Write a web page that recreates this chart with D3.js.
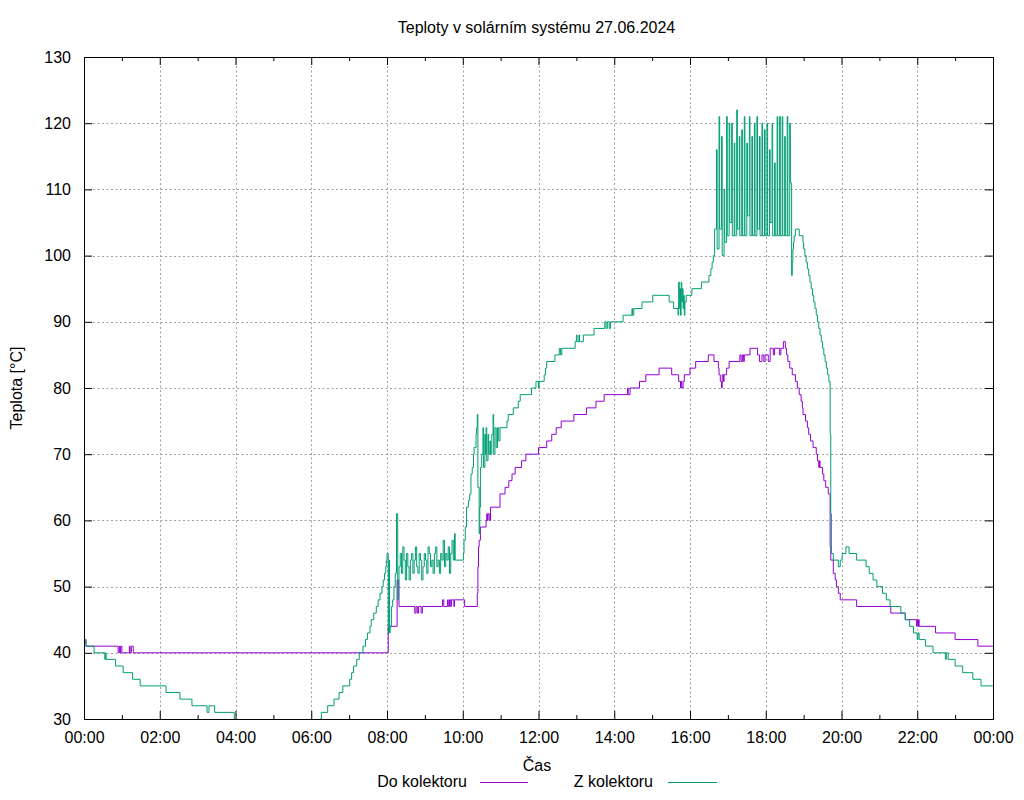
<!DOCTYPE html>
<html><head><meta charset="utf-8">
<script src="https://cdn.jsdelivr.net/npm/d3@7"></script>
<style>body{margin:0;background:#fff} svg text{font-family:"Liberation Sans",Arial,sans-serif;font-size:16px;fill:#000}</style>
</head><body><svg id="c" width="1024" height="800"></svg>
<script>
const titleText = "Teploty v solárním systému 27.06.2024";
const xLabelText = "Čas";
const yLabelText = "Teplota [°C]";
const seriesNames = ["Do kolektoru", "Z kolektoru"];
const seriesColors = ["#9400d3", "#009e73"];
const xMajorTicks = ["00:00","02:00","04:00","06:00","08:00","10:00","12:00","14:00","16:00","18:00","20:00","22:00","24:00"];
const xMajorLabels = ["00:00","02:00","04:00","06:00","08:00","10:00","12:00","14:00","16:00","18:00","20:00","22:00","00:00"];
const xMinorTicks = ["01:00","03:00","05:00","07:00","09:00","11:00","13:00","15:00","17:00","19:00","21:00","23:00"];
const yTicks = [30,40,50,60,70,80,90,100,110,120,130];

// Do kolektoru (purple)
const doTime = ["00:00","00:03","00:54","00:56","00:57","00:58","01:00","01:12","01:13","01:15","01:18",
"08:02","08:16","08:19","08:44","08:46","08:48","08:50","08:54","08:56",
"09:28","09:30","09:36","09:37","09:39","09:41","09:42","09:46","09:47","10:03",
"10:23","10:24","10:25","10:26","10:28","10:37","10:38","10:39","10:40","10:42","10:44","10:59",
"11:07","11:13","11:18","11:23","11:33","11:40","12:00","12:13","12:21","12:28","12:36","12:56",
"13:16","13:31","13:44","14:21","14:22","14:25","14:40","14:50","15:11","15:31","15:42","15:45",
"15:46","15:47","15:49","15:51","16:00","16:09","16:29","16:38","16:45","16:46","16:48","16:50",
"16:51","16:53","16:54","16:58","17:02","17:19","17:21","17:23","17:25","17:26","17:35","17:47",
"17:50","17:54","17:57","17:59","18:04","18:07","18:12","18:14","18:22","18:24","18:28","18:31",
"18:33","18:35","18:38","18:42","18:47","18:50","18:53","18:56","18:58","18:59","19:03","19:06",
"19:08","19:11","19:15","19:20","19:22","19:24","19:25","19:26","19:30","19:32","19:35","19:39",
"19:42","19:43","19:47","19:50","19:52","19:55","19:58","20:24","21:18","21:41","21:59","22:00",
"22:01","22:02","22:03","22:29","23:00","23:36","24:00"];
const doTemp = [42,41,40,41,40,41,40,41,40,41,40,
44,51,47,46,47,46,47,46,47,
48,47,48,47,48,47,48,47,48,47,
49,53,56,57,59,60,61,60,61,60,62,64,
65,66,67,68,69,70,71,72,73,74,75,76,
77,78,79,80,79,80,81,82,83,82,81,80,
81,80,81,82,83,84,85,84,83,82,81,80,
82,81,82,83,84,85,84,85,84,85,86,85,
84,85,84,85,84,86,85,86,85,86,87,86,
85,84,83,82,81,80,79,78,77,76,75,74,
73,72,71,70,69,68,69,68,67,66,65,64,
56,54,52,51,50,49,48,47,46,45,44,45,
44,45,44,43,42,41,41];

// Z kolektoru (green)
const zTime = ["00:00","00:03","00:16","00:33","00:34","00:35","00:50","01:02","01:17","01:29",
"02:10","02:32","02:51","03:15","03:18","03:27","03:58","04:30","05:00","05:30",
"06:00","06:14","06:16","06:26","06:36","06:44","06:50","07:01","07:04","07:07",
"07:12","07:16","07:22","07:26","07:29","07:33","07:35","07:39","07:43","07:46",
"07:49","07:52","07:54","07:56","07:58","07:59","08:00","08:02","08:03","08:04",
"08:05","08:07","08:09","08:11","08:13","08:15","08:17","08:18",
"08:19","08:21","08:23","08:25","08:27","08:29","08:31","08:33","08:35","08:37",
"08:39","08:41","08:43","08:45","08:47","08:49","08:51","08:53","08:55","08:57",
"08:59","09:01","09:03","09:05","09:07","09:09","09:11","09:13","09:15","09:17",
"09:19","09:21","09:23","09:25","09:27","09:29","09:31","09:33","09:35","09:37",
"09:39","09:41","09:43","09:45",
"09:47","09:48","10:01","10:02","10:04","10:06","10:09","10:11","10:13","10:15",
"10:17","10:18","10:21","10:22","10:23","10:24","10:26","10:27","10:28","10:30",
"10:32","10:33","10:35","10:36","10:37","10:38","10:40","10:41","10:43","10:44",
"10:46","10:48","10:49","10:51","10:53","10:55","10:57","10:59","11:10","11:12",
"11:20","11:28","11:31","11:49","11:56","12:00","12:01","12:09","12:11","12:13",
"12:26","12:33","12:35","12:37","12:58","13:00","13:01","13:04","13:05","13:11",
"13:28","13:45","13:47","13:49","13:52","13:54","14:14","14:28","14:29","14:31",
"14:44","15:01","15:27","15:34","15:41","15:42","15:43","15:44","15:45","15:46",
"15:47","15:48","15:49","15:50","15:51","15:52","15:54","16:03","16:18","16:30",
"16:33","16:35","16:37",
"16:39","16:42","16:43","16:46","16:47","16:50","16:51","16:54","16:55","16:58",
"16:59","17:02","17:03","17:06","17:07","17:10","17:11","17:14","17:15","17:18",
"17:19","17:22","17:23","17:26","17:27","17:30","17:31","17:34","17:35","17:38",
"17:39","17:42","17:43","17:46","17:47","17:50","17:51","17:54","17:55","17:58",
"17:59","18:02","18:03","18:06","18:07","18:10","18:11","18:14","18:15","18:18",
"18:19","18:22","18:23","18:26","18:27","18:30","18:31","18:34","18:35","18:38",
"18:39","18:41","18:42","18:43","18:44","18:45","18:47","18:53","18:59","19:00",
"19:02","19:04","19:06","19:08","19:10","19:12","19:14","19:16","19:18","19:20",
"19:22","19:24","19:26","19:28","19:30","19:32","19:34","19:36","19:38","19:40",
"19:42","19:43","19:44","19:47","19:55","19:58","20:01","20:07","20:12","20:24",
"20:39","20:44","20:50","20:56","21:05","21:11","21:17","21:34","21:41","21:48",
"21:54","22:00","22:01","22:03","22:13","22:25","22:45","22:46","22:49","23:00",
"23:12","23:28","23:41","24:00"];
const zTemp = [42,41,40,39,40,39,38,37,36,35,
34,33,32,31,32,31,29,28,27,28,
29,30,31,32,33,34,35,36,37,38,
39,40,41,42,43,44,45,46,47,48,
49,50,51,52,53,54,55,43,54,43,
44,47,48,50,52,61,48,51,
53,55,52,56,54,51,55,53,51,54,
55,52,54,56,53,52,55,54,51,53,
55,54,52,56,55,53,54,52,55,56,
53,54,52,55,54,57,53,55,54,56,
52,55,57,54,
58,54,55,57,59,62,63,64,67,68,
70,71,73,74,76,65,58,62,68,70,
74,68,73,70,74,69,73,70,72,70,
73,76,70,74,71,74,72,74,75,76,
77,78,79,80,81,80,81,82,83,84,
85,86,85,86,87,88,87,88,87,88,
89,90,89,90,89,90,91,92,91,92,
93,94,93,92,91,96,92,95,91,96,
93,95,92,94,91,93,94,95,96,97,
98,99,100,
104,116,101,121,104,118,100,110,102,121,
103,120,105,120,103,117,103,122,104,118,
103,119,103,121,103,117,106,121,103,118,
103,120,103,121,104,118,103,120,103,119,
103,120,103,116,105,120,103,114,103,121,
103,121,103,121,103,118,103,121,103,120,
111,97,99,101,102,103,104,103,102,101,
100,99,98,97,96,95,94,93,92,91,
90,89,88,87,86,85,84,83,82,81,
73,61,55,54,53,54,55,56,55,54,
53,52,51,50,49,48,47,46,45,44,
43,42,43,42,41,40,39,40,39,38,
37,36,35,35];

const W = 1024, H = 800;
const P = {l: 84, r: 993, t: 57, b: 719};
const toMin = s => { const [h, m] = s.split(":").map(Number); return h * 60 + m; };

const svg = d3.select("#c");
const x = d3.scaleLinear().domain([0, 1440]).range([P.l, P.r]);
const y = d3.scaleLinear().domain([30, 130]).range([P.b, P.t]);

svg.append("rect").attr("width", W).attr("height", H).attr("fill", "#fff");

// grid
const grid = svg.append("g").attr("stroke", "#a0a0a0").attr("stroke-width", 1).attr("stroke-dasharray", "2,2.5");
xMajorTicks.slice(1, -1).forEach(t => {
  const xx = Math.round(x(toMin(t))) + 0.5;
  grid.append("line").attr("x1", xx).attr("x2", xx).attr("y1", P.t).attr("y2", P.b);
});
yTicks.slice(1, -1).forEach(v => {
  const yy = Math.round(y(v)) + 0.5;
  grid.append("line").attr("x1", P.l).attr("x2", P.r).attr("y1", yy).attr("y2", yy);
});

// clip
svg.append("clipPath").attr("id", "clip").append("rect")
  .attr("x", P.l).attr("y", P.t).attr("width", P.r - P.l).attr("height", P.b - P.t);

const line = d3.line().x(d => x(d.t)).y(d => y(d.v)).curve(d3.curveStepAfter);
const series = [
  {name: seriesNames[0], color: seriesColors[0], data: doTime.map((t, i) => ({t: toMin(t), v: doTemp[i]}))},
  {name: seriesNames[1], color: seriesColors[1], data: zTime.map((t, i) => ({t: toMin(t), v: zTemp[i]}))}
];
const lines = svg.append("g").attr("clip-path", "url(#clip)");
series.forEach(s => {
  lines.append("path").datum(s.data).attr("d", line)
    .attr("fill", "none").attr("stroke", s.color).attr("stroke-width", 1);
});

// axes
const xMaj = xMajorTicks.map(toMin), xMin = xMinorTicks.map(toMin);
function styleAxis(g) { g.select(".domain").remove(); g.selectAll(".tick line").attr("stroke", "#000"); g.selectAll("text").attr("font-size", null).attr("font-family", null); }
svg.append("g").attr("transform", `translate(0,${P.b})`)
  .call(d3.axisBottom(x).tickValues(xMaj).tickSize(-8).tickPadding(13).tickFormat((d, i) => xMajorLabels[i]))
  .call(styleAxis);
svg.append("g").attr("transform", `translate(0,${P.b})`)
  .call(d3.axisBottom(x).tickValues(xMin).tickSize(-4).tickFormat(""))
  .call(styleAxis);
svg.append("g").attr("transform", `translate(0,${P.t})`)
  .call(d3.axisTop(x).tickValues(xMaj).tickSize(-8).tickFormat(""))
  .call(styleAxis);
svg.append("g").attr("transform", `translate(0,${P.t})`)
  .call(d3.axisTop(x).tickValues(xMin).tickSize(-4).tickFormat(""))
  .call(styleAxis);
svg.append("g").attr("transform", `translate(${P.l},0)`)
  .call(d3.axisLeft(y).tickValues(yTicks).tickSize(-8).tickPadding(13).tickFormat(d3.format("d")))
  .call(styleAxis);
svg.append("g").attr("transform", `translate(${P.r},0)`)
  .call(d3.axisRight(y).tickValues(yTicks).tickSize(-8).tickFormat(""))
  .call(styleAxis);

svg.append("rect").attr("x", P.l + 0.5).attr("y", P.t + 0.5).attr("width", P.r - P.l).attr("height", P.b - P.t)
  .attr("fill", "none").attr("stroke", "#000").attr("stroke-width", 1);

// texts
svg.append("text").attr("x", 536.5).attr("y", 33).attr("text-anchor", "middle").text(titleText);
svg.append("text").attr("x", 537).attr("y", 771).attr("text-anchor", "middle").text(xLabelText);
svg.append("text").attr("transform", "translate(22,388) rotate(-90)").attr("text-anchor", "middle").text(yLabelText);

// legend
const legendPos = [{tx: 467, lx1: 480, lx2: 528}, {tx: 653, lx1: 668, lx2: 717}];
series.forEach((s, i) => {
  const p = legendPos[i];
  svg.append("text").attr("x", p.tx).attr("y", 787).attr("text-anchor", "end").text(s.name);
  svg.append("line").attr("x1", p.lx1).attr("x2", p.lx2).attr("y1", 782.5).attr("y2", 782.5)
    .attr("stroke", s.color).attr("stroke-width", 1);
});
</script></body></html>
